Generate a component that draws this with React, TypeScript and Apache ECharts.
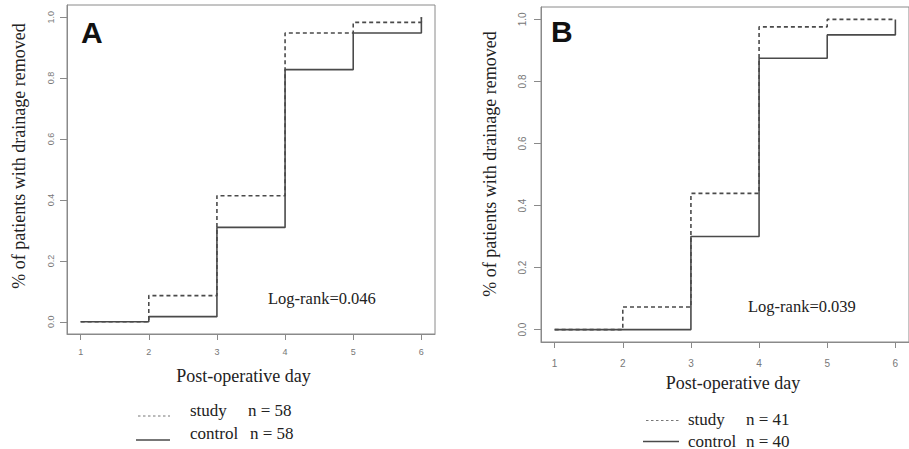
import React, { useEffect, useRef } from "react";
import * as echarts from "echarts";

const days = [1, 2, 3, 4, 5, 6];
const yTicks = [0, 0.2, 0.4, 0.6, 0.8, 1.0];
const studyA = [0, 0.086, 0.414, 0.948, 0.983, 1.0];
const controlA = [0, 0.017, 0.31, 0.828, 0.948, 1.0];
const studyB = [0, 0.073, 0.439, 0.976, 1.0, 1.0];
const controlB = [0, 0, 0.3, 0.875, 0.95, 1.0];
const panelLabels = ["A", "B"];
const logRank = ["Log-rank=0.046", "Log-rank=0.039"];
const legendA = [
  { name: "study", n: "n = 58" },
  { name: "control", n: "n = 58" },
];
const legendB = [
  { name: "study", n: "n = 41" },
  { name: "control", n: "n = 40" },
];
const xTitle = "Post-operative day";
const yTitle = "% of patients with drainage removed";

const LINE = "#4a4a4a";
const GRAY = "#8a8a8a";
const SERIF = "Liberation Serif";
const SANS = "Liberation Sans";

function pairs(ys: number[]) {
  return days.map((d, i) => [d, ys[i]]);
}

function xAxisCfg(gridIndex: number, fs: number, margin: number) {
  return {
    type: "value",
    gridIndex,
    min: 0.8,
    max: 6.2,
    position: "bottom",
    axisLine: { show: true, onZero: false, lineStyle: { color: GRAY, width: 1 } },
    axisTick: { show: true, customValues: days, length: 6, lineStyle: { color: GRAY } },
    axisLabel: {
      customValues: days,
      color: "#777",
      fontFamily: SANS,
      fontSize: fs,
      margin,
    },
    splitLine: { show: false },
  };
}

function yAxisCfg(gridIndex: number, fs: number, margin: number) {
  return {
    type: "value",
    gridIndex,
    min: -0.04,
    max: 1.04,
    position: "left",
    axisLine: { show: true, lineStyle: { color: GRAY, width: 1 } },
    axisTick: { show: true, customValues: yTicks, length: 7, lineStyle: { color: GRAY } },
    axisLabel: {
      customValues: yTicks,
      rotate: 90,
      color: "#777",
      fontFamily: SANS,
      fontSize: fs,
      margin,
      formatter: (v: number) => v.toFixed(1),
    },
    splitLine: { show: false },
  };
}

function stepSeries(ys: number[], idx: number, dashed: boolean) {
  return {
    type: "line",
    xAxisIndex: idx,
    yAxisIndex: idx,
    step: "end",
    symbol: "none",
    data: pairs(ys),
    lineStyle: { color: LINE, width: 1.6, type: dashed ? [4, 3] : "solid" },
    z: dashed ? 3 : 2,
  };
}

function txt(x: number, y: number, text: string, fontSize: number, opts: any = {}) {
  return {
    type: "text",
    x,
    y,
    rotation: opts.rotation || 0,
    style: {
      text,
      fontSize,
      fontFamily: opts.family || SERIF,
      fontWeight: opts.weight || "normal",
      fill: opts.fill || "#222",
      textAlign: opts.align || "left",
      textVerticalAlign: "middle",
    },
    silent: true,
  };
}

function lineEl(x1: number, x2: number, y: number, dashed: boolean) {
  return {
    type: "line",
    shape: { x1, y1: y, x2, y2: y },
    style: { stroke: dashed ? "#777" : LINE, lineWidth: dashed ? 1 : 1.4, lineDash: dashed ? [2.5, 2.5] : null },
    silent: true,
  };
}

export default function App() {
  const ref = useRef<HTMLDivElement>(null);
  useEffect(() => {
    if (!ref.current) return;
    const chart = echarts.init(ref.current, undefined, { renderer: "svg" });
    chart.setOption({
      animation: false,
      backgroundColor: "#fff",
      grid: [
        { left: 67, top: 5, width: 368, height: 329, show: true, borderColor: GRAY, borderWidth: 1, backgroundColor: "transparent" },
        { left: 541, top: 7, width: 376, height: 335, show: true, borderColor: GRAY, borderWidth: 1, backgroundColor: "transparent" },
      ],
      xAxis: [xAxisCfg(0, 9, 13), xAxisCfg(1, 10, 16)],
      yAxis: [yAxisCfg(0, 9, 12), yAxisCfg(1, 10, 14)],
      series: [
        stepSeries(controlA, 0, false),
        stepSeries(studyA, 0, true),
        stepSeries(controlB, 1, false),
        stepSeries(studyB, 1, true),
      ],
      graphic: [
        txt(81, 32, panelLabels[0], 30, { family: SANS, weight: "bold", fill: "#111" }),
        txt(551, 31, panelLabels[1], 30, { family: SANS, weight: "bold", fill: "#111" }),
        txt(268, 298, logRank[0], 16.5),
        txt(748, 306, logRank[1], 16.5),
        txt(243.5, 376, xTitle, 18, { align: "center" }),
        txt(733, 383, xTitle, 18, { align: "center" }),
        txt(19, 156, yTitle, 18, { align: "center", rotation: Math.PI / 2 }),
        txt(490, 164, yTitle, 18, { align: "center", rotation: Math.PI / 2 }),
        lineEl(138, 170, 416, true),
        lineEl(136, 170, 440, false),
        txt(190, 410, legendA[0].name, 17),
        txt(248, 410, legendA[0].n, 17),
        txt(190, 433, legendA[1].name, 17),
        txt(250, 433, legendA[1].n, 17),
        lineEl(646, 679, 420.5, true),
        lineEl(643, 679, 441.5, false),
        txt(688, 419, legendB[0].name, 17),
        txt(746, 419, legendB[0].n, 17),
        txt(688, 441, legendB[1].name, 17),
        txt(746, 441, legendB[1].n, 17),
      ],
    });
    return () => chart.dispose();
  }, []);
  return (
    <div
      ref={ref}
      style={{ position: "fixed", left: 0, top: 0, width: 909, height: 449, background: "#fff" }}
    />
  );
}
